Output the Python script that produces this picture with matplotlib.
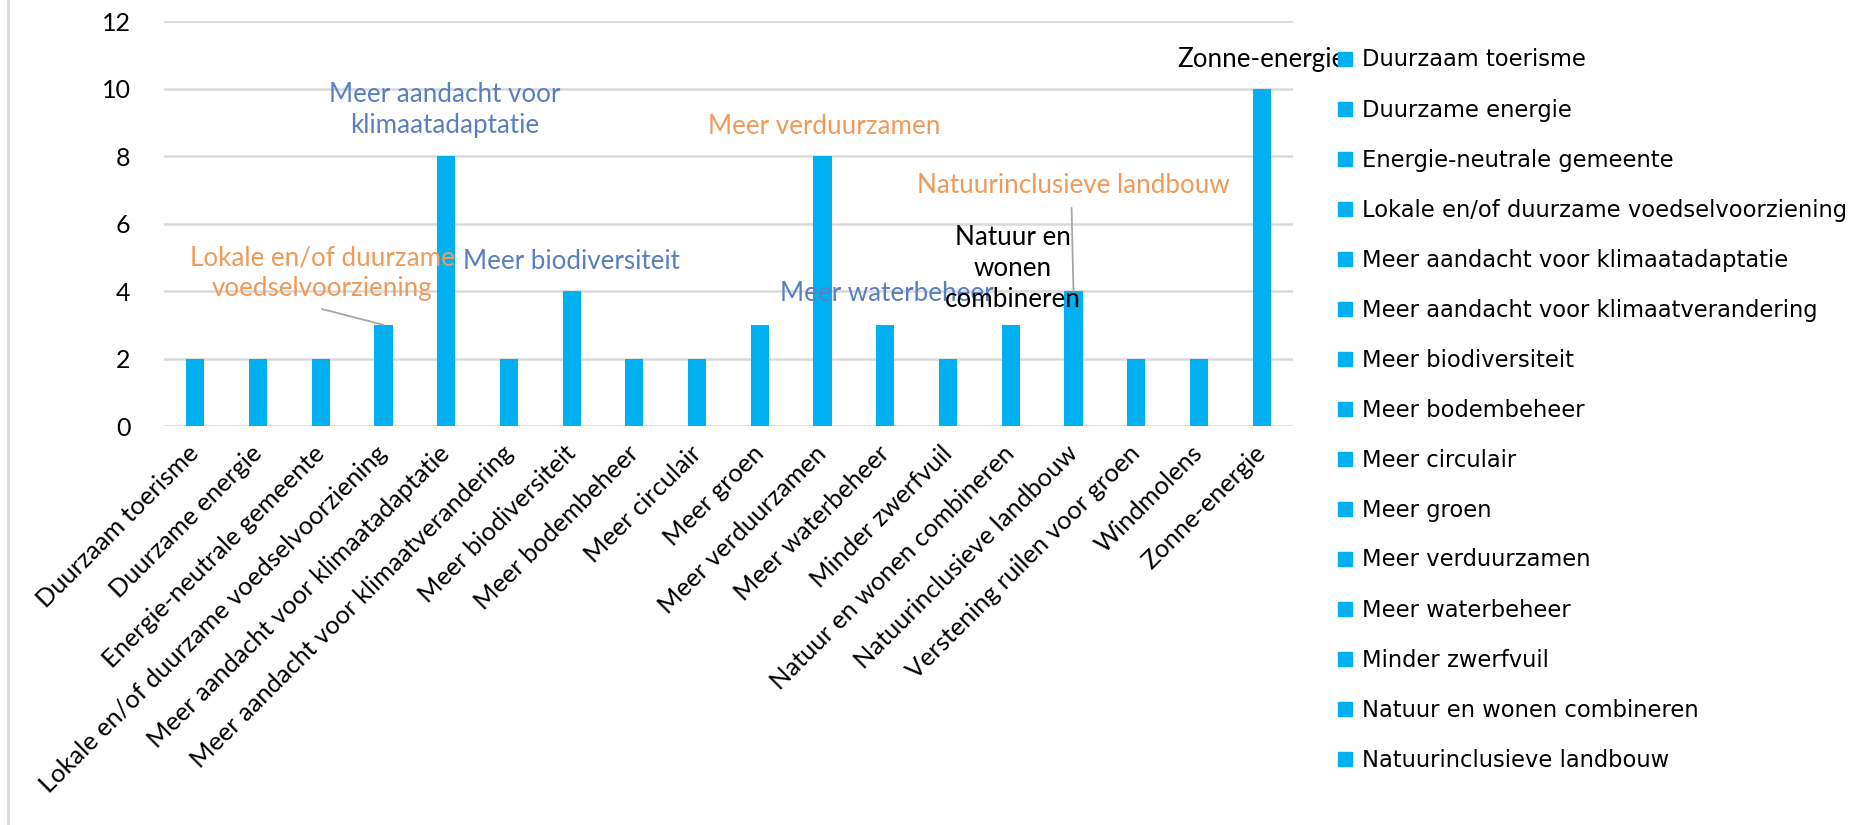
import matplotlib
matplotlib.use('Agg')
import matplotlib.pyplot as plt
from matplotlib.lines import Line2D

# categories and counts
categories = ['Duurzaam toerisme', 'Duurzame energie', 'Energie-neutrale gemeente',
              'Lokale en/of duurzame voedselvoorziening', 'Meer aandacht voor klimaatadaptatie',
              'Meer aandacht voor klimaatverandering', 'Meer biodiversiteit', 'Meer bodembeheer',
              'Meer circulair', 'Meer groen', 'Meer verduurzamen', 'Meer waterbeheer',
              'Minder zwerfvuil', 'Natuur en wonen combineren', 'Natuurinclusieve landbouw',
              'Verstening ruilen voor groen', 'Windmolens', 'Zonne-energie']
counts = [2, 2, 2, 3, 8, 2, 4, 2, 2, 3, 8, 3, 2, 3, 4, 2, 2, 10]
y_ticks = [0, 2, 4, 6, 8, 10, 12]

# the legend only shows the first 15 entries (cut off in the original)
legend_count = 15

# data labels placed by hand in the original chart
label_texts = ['Lokale en/of duurzame\nvoedselvoorziening', 'Meer aandacht voor\nklimaatadaptatie',
               'Meer biodiversiteit', 'Meer verduurzamen', 'Meer waterbeheer',
               'Natuur en\nwonen\ncombineren', 'Natuurinclusieve landbouw', 'Zonne-energie']
label_x = [2.02, 3.98, 6.0, 10.03, 11.03, 13.03, 14.0, 17.0]
label_y = [4.53, 9.37, 4.88, 8.88, 3.92, 4.67, 7.12, 10.86]
label_colors = ['#F09A5A', '#5A7FBF', '#5A7FBF', '#F09A5A', '#5A7FBF', 'black', '#F09A5A', 'black']

# leader lines: (category index, start x, start y)
leaders = [(3, 2.02, 3.47), (14, 13.97, 6.47)]

bar_color = '#00B0F0'
grid_color = '#D9D9D9'
axis_font = ['Lato', 'DejaVu Sans']

W, H = 1872, 825
fig = plt.figure(figsize=(W / 100, H / 100), dpi=100)
ax = fig.add_axes([0.0876, 0.4836, 0.6031, 0.4904])

x = range(len(categories))
ax.bar(x, counts, width=0.29, color=bar_color, zorder=3)

ax.set_xlim(-0.5, len(categories) - 0.5)
ax.set_ylim(0, 12)
ax.set_yticks(y_ticks)
ax.yaxis.grid(True, color=grid_color, linewidth=1.8, zorder=0)
for s in ax.spines.values():
    s.set_visible(False)
ax.tick_params(axis='y', length=0, pad=24, labelsize=18)
ax.tick_params(axis='x', length=0, pad=17)
for lbl in ax.get_yticklabels():
    lbl.set_family(axis_font)

ax.set_xticks(list(x))
ax.set_xticklabels(categories, rotation=45, ha='right', va='center',
                   rotation_mode='anchor', fontsize=18.3, family=axis_font)

for t, lx, ly, c in zip(label_texts, label_x, label_y, label_colors):
    ax.text(lx, ly, t, ha='center', va='center', color=c, fontsize=18.7,
            family=axis_font, linespacing=1.3, zorder=4)

for idx, sx, sy in leaders:
    ax.annotate('', xy=(idx, counts[idx]), xytext=(sx, sy),
                arrowprops=dict(arrowstyle='-', color='#A6A6A6', lw=1.3,
                                shrinkA=0, shrinkB=0), zorder=4)

# legend: rows ~50 px apart, first row centred ~60 px from the top
leg_size = 16.3
handles = [Line2D([], [], marker='s', linestyle='none', markersize=9.5,
                  markerfacecolor=bar_color, markeredgecolor=bar_color)
           for _ in categories[:legend_count]]


def make_legend(spacing, top):
    return fig.legend(handles, categories[:legend_count], loc='upper left',
                      bbox_to_anchor=(1338 / W, 1 - top / H), frameon=False,
                      fontsize=leg_size, handlelength=0.65, handletextpad=0.4,
                      labelspacing=spacing, borderpad=0, borderaxespad=0)


def row_centres(leg):
    fig.canvas.draw()
    r = fig.canvas.get_renderer()
    return [H - (t.get_window_extent(r).y0 + t.get_window_extent(r).y1) / 2
            for t in leg.get_texts()]


spacing, top = 1.3, 50
leg = make_legend(spacing, top)
c = row_centres(leg)
gap = (c[-1] - c[0]) / (legend_count - 1)
spacing += (50 - gap) / (leg_size * 100 / 72)
leg.remove()
leg = make_legend(spacing, top)
c = row_centres(leg)
top += 60 - c[0]
leg.remove()
leg = make_legend(spacing, top)

# thin grey frame line at the far left
fig.add_artist(Line2D([0.0045, 0.0045], [0, 1], transform=fig.transFigure,
                      color=grid_color, linewidth=2))

fig.savefig('out.png', dpi=100)
